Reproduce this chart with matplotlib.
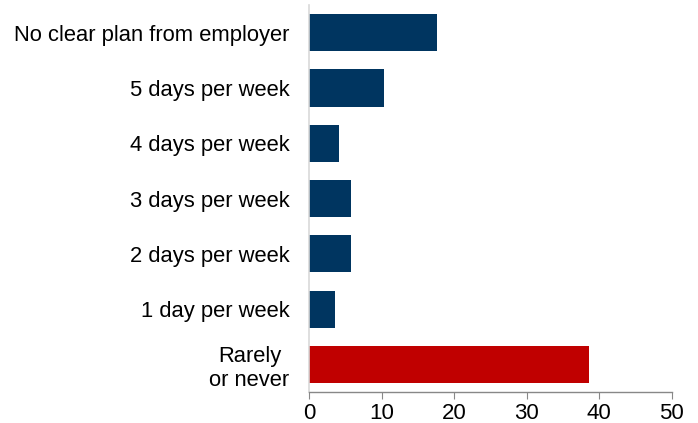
import matplotlib
matplotlib.use("Agg")
import matplotlib.pyplot as plt

plt.rcParams['font.family'] = ['Liberation Sans', 'DejaVu Sans']

categories = ["Rarely\nor never", "1 day per week", "2 days per week", "3 days per week",
              "4 days per week", "5 days per week", "No clear plan from employer"]
values = [38.6, 3.6, 5.75, 5.75, 4.2, 10.4, 17.6]
colors = ["#C00000"] + ["#003560"] * 6
x_ticks = [0, 10, 20, 30, 40, 50]

fig = plt.figure(figsize=(6.98, 4.23), dpi=100)
ax = fig.add_axes([0.4427, 0.0733, 0.5196, 0.9147])

pos = list(range(len(categories)))
ax.barh(pos, values, height=0.67, color=colors)

ax.set_xlim(0, 50)
ax.set_ylim(-0.5, 6.5)
ax.set_xticks(x_ticks)
ax.set_xticklabels([str(t) for t in x_ticks], fontsize=16)
ax.set_yticks(pos)
ax.set_yticklabels(categories, fontsize=15.8, multialignment='center')

for s in ["top", "right"]:
    ax.spines[s].set_visible(False)
ax.spines["left"].set_color("#d9d9d9")
ax.spines["left"].set_linewidth(1.2)
ax.spines["bottom"].set_color("#888888")
ax.spines["bottom"].set_linewidth(1.0)
ax.tick_params(axis="y", length=0, pad=14)
ax.tick_params(axis="x", length=5, color="#888888", pad=3)

fig.savefig("out.png", dpi=100)
